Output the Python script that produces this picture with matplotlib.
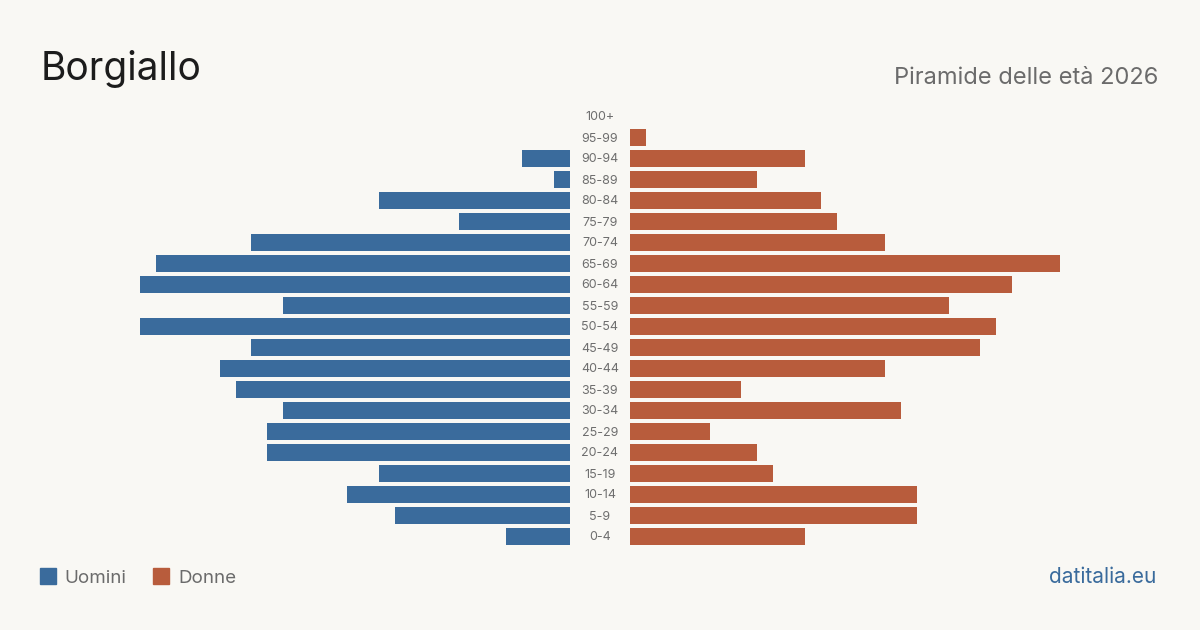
import matplotlib
matplotlib.use("Agg")
import matplotlib.pyplot as plt
from matplotlib.patches import Rectangle

plt.rcParams['font.family'] = ['Inter', 'DejaVu Sans']

age_groups = ["0-4", "5-9", "10-14", "15-19", "20-24", "25-29", "30-34", "35-39",
              "40-44", "45-49", "50-54", "55-59", "60-64", "65-69", "70-74", "75-79",
              "80-84", "85-89", "90-94", "95-99", "100+"]
men = [4, 11, 14, 12, 19, 19, 18, 21, 22, 20, 27, 18, 27, 26, 20, 7, 12, 1, 3, 0, 0]
women = [11, 18, 18, 9, 8, 5, 17, 7, 16, 22, 23, 20, 24, 27, 16, 13, 12, 8, 11, 1, 0]

BG = "#f9f8f4"
BLUE = "#3a6b9c"
ORANGE = "#b85c3c"

W, H = 1200, 630
fig = plt.figure(figsize=(W / 100, H / 100), dpi=100, facecolor=BG)

xmax = 27
ax_bottom = (H - 547) / H
ax_height = 441 / H
axL = fig.add_axes([140 / W, ax_bottom, 430 / W, ax_height])
axR = fig.add_axes([630 / W, ax_bottom, 430 / W, ax_height])
ypos = list(range(len(age_groups)))
axL.barh(ypos, men, height=0.81, color=BLUE)
axR.barh(ypos, women, height=0.81, color=ORANGE)
axL.set_xlim(xmax, 0)
axR.set_xlim(0, xmax)
for ax in (axL, axR):
    ax.set_ylim(-0.5, len(age_groups) - 0.5)
    ax.axis('off')
    ax.set_facecolor('none')

# age labels centered between the halves
for i, lab in enumerate(age_groups):
    y_px = 537.5 - 21 * i
    fig.text(600 / W, 1 - y_px / H, lab, ha='center', va='center',
             fontsize=9, color="#6e6e6e")

fig.text(41 / W, 1 - 80 / H, "Borgiallo", fontsize=28, color="#1c1c1c",
         ha='left', va='baseline')
fig.text(1158 / W, 1 - 84 / H, "Piramide delle età 2026", fontsize=17,
         color="#6b6b6b", ha='right', va='baseline')

# legend
fig.patches.append(Rectangle((40 / W, 1 - 584 / H), 16 / W, 16 / H,
                             transform=fig.transFigure, color=BLUE))
fig.text(64 / W, 1 - 583 / H, "Uomini", fontsize=13.5, color="#6b6b6b",
         ha='left', va='baseline')
fig.patches.append(Rectangle((153 / W, 1 - 584 / H), 16 / W, 16 / H,
                             transform=fig.transFigure, color=ORANGE))
fig.text(178 / W, 1 - 583 / H, "Donne", fontsize=13.5, color="#6b6b6b",
         ha='left', va='baseline')

fig.text(1156 / W, 1 - 583 / H, "datitalia.eu", fontsize=15, color=BLUE,
         ha='right', va='baseline')

fig.savefig("out.png", dpi=100, facecolor=BG)
